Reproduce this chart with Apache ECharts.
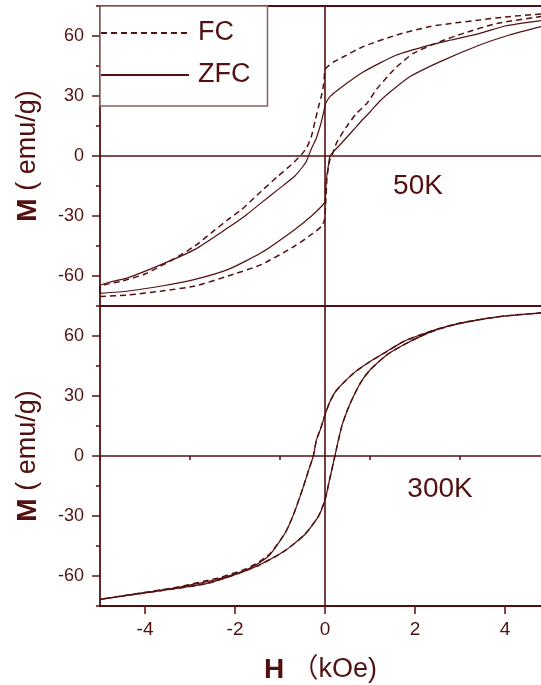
<!DOCTYPE html>
<html><head><meta charset="utf-8">
<script src="https://cdn.jsdelivr.net/npm/echarts@6/dist/echarts.min.js"></script>
<style>html,body{margin:0;padding:0;background:#fff}#c{width:541px;height:685px}</style>
</head><body><div id="c"></div>
<script>
// ---------- 50K, FC (dashed) ----------
const fc50DownH = [4.8, 4.0, 3.44, 2.8, 2.33, 1.59, 0.85, 0.4, 0.19, 0.05, 0, -0.03, -0.08, -0.14, -0.22, -0.3, -0.4, -0.52, -0.74, -1.04, -1.41, -1.85, -2.15, -2.52, -2.89, -3.4, -4.0, -4.5, -5];
const fc50DownM = [71, 69.5, 68, 66.3, 64.7, 60.5, 54.7, 49.5, 47, 44.5, 43, 36, 30, 25, 17.5, 10, 4.5, 0.8, -4.2, -10, -17.5, -26.7, -31.7, -38.3, -45, -52, -59, -62.5, -65.5];
const fc50UpH = [-5, -4.37, -3.63, -2.89, -2.15, -1.41, -0.67, -0.3, -0.07, -0.01, 0.02, 0.04, 0.08, 0.11, 0.15, 0.26, 0.48, 0.7, 0.93, 1.15, 1.4, 1.59, 1.96, 2.56, 3.07, 3.82, 4.8];
const fc50UpM = [-70.3, -69.5, -67.5, -65, -60, -54.2, -45, -39.2, -35, -31.7, -21.7, -12, -5, -1.7, 0, 6.7, 14.7, 21.3, 26.3, 33.5, 40, 44.5, 51.3, 57.2, 61.3, 66.3, 69.7];
// ---------- 50K, ZFC (solid) ----------
const zfc50DownH = [4.8, 4.0, 3.44, 2.8, 2.33, 1.59, 0.85, 0.33, 0.11, 0.03, 0, -0.05, -0.1, -0.2, -0.31, -0.41, -0.5, -0.67, -1.04, -1.41, -1.78, -2.15, -2.89, -3.63, -4.37, -5];
const zfc50DownM = [67.7, 65, 61.3, 58, 55.5, 50.5, 42, 33.8, 29.7, 27, 25, 20, 15.5, 8.5, 3.3, -2.5, -5.5, -10, -16.7, -23.3, -30, -35.8, -46.7, -54.2, -60.8, -65];
const zfc50UpH = [-5, -4.37, -3.63, -2.89, -2.15, -1.41, -0.67, -0.3, -0.07, 0, 0.02, 0.04, 0.08, 0.11, 0.2, 0.33, 0.63, 0.85, 1.0, 1.22, 1.5, 1.89, 2.56, 3.44, 4.1, 4.8];
const zfc50UpM = [-68.7, -67.5, -65, -61.7, -56.7, -48.3, -36.7, -30, -25, -23, -16, -10, -4, 0, 2.5, 5.5, 13, 18.5, 22, 27.5, 33, 39.7, 47.2, 55.5, 60.5, 64.7];
// ---------- 300K, FC (dashed) ----------
const fc300DownH = [4.8, 4.0, 3.5, 3.0, 2.5, 2.11, 1.74, 1.37, 1.0, 0.63, 0.26, 0.11, 0, -0.1, -0.19, -0.26, -0.37, -0.48, -0.69, -0.85, -1.0, -1.23, -1.54, -1.85, -2.3, -2.62, -3.0, -3.38, -4.15, -5];
const fc300DownM = [71.5, 70, 68.5, 66.5, 63.5, 60.5, 57.2, 52.2, 47.2, 41.3, 33, 27.2, 20.5, 13.5, 8, 0, -7.5, -15.3, -28.7, -37, -42.3, -49, -54, -57.2, -60.5, -62.3, -64.2, -66, -68.7, -71.7];
const fc300UpH = [-5, -4.15, -3.38, -2.62, -1.92, -1.46, -0.92, -0.46, -0.15, 0, 0.1, 0.22, 0.37, 0.5, 0.63, 0.8, 1.0, 1.37, 1.74, 2.11, 2.5, 3.0, 3.5, 4.0, 4.8];
const fc300UpM = [-71.7, -68.9, -66.5, -63.7, -58.7, -54.5, -47.8, -39.5, -30.3, -22, -12, 0, 14.7, 23, 29.7, 37, 43, 50.5, 55.5, 59.7, 63.3, 66.3, 68.4, 70, 71.5];
// ---------- 300K, ZFC (solid) ----------
const zfc300DownH = [4.8, 4.0, 3.5, 3.0, 2.5, 2.11, 1.74, 1.37, 1.0, 0.63, 0.26, 0.11, 0, -0.1, -0.19, -0.26, -0.37, -0.48, -0.69, -0.85, -1.0, -1.23, -1.54, -1.85, -2.3, -2.62, -3.0, -3.38, -4.15, -5];
const zfc300DownM = [71.5, 70, 68.5, 66.5, 63.5, 60.5, 57.2, 52.2, 47.2, 41.3, 33, 27.2, 20.5, 13.5, 8, 0, -7.5, -15.3, -28.7, -37, -42.5, -49.5, -54.5, -57.8, -61, -62.8, -64.5, -66.2, -68.7, -71.7];
const zfc300UpH = [-5, -4.15, -3.38, -2.62, -1.92, -1.46, -0.92, -0.46, -0.15, 0, 0.1, 0.22, 0.37, 0.5, 0.63, 0.8, 1.0, 1.37, 1.74, 2.11, 2.5, 3.0, 3.5, 4.0, 4.8];
const zfc300UpM = [-71.7, -68.9, -66.5, -63.7, -58.7, -54.5, -47.8, -39.5, -30.3, -22, -12, 0, 14.7, 23, 29.7, 37, 43, 50.5, 55.5, 59.7, 63.3, 66.3, 68.4, 70, 71.5];

// ---------- tick labels ----------
const xMajorTicks = [-4, -2, 0, 2, 4];
const xMinorTicks = [-5, -3, -1, 1, 3];
const yMajorTicks = [-60, -30, 0, 30, 60];
const yMinorTicks = [-75, -45, -15, 15, 45, 75];
const panelLabels = ['50K', '300K'];
const seriesNames = ['FC', 'ZFC'];

const C = '#531010';
const FONT = '"Liberation Sans", Arial, "Noto Sans CJK SC", sans-serif';

function loop(dh, dm, uh, um) {
  const out = [];
  dh.forEach((h, i) => out.push([h, dm[i]]));
  uh.forEach((h, i) => out.push([h, um[i]]));
  return out;
}

const chart = echarts.init(document.getElementById('c'), null, {renderer: 'canvas'});

function xAx(grid, pos, opts) {
  return Object.assign({
    type: 'value', gridIndex: grid, position: pos, min: -5, max: 4.8,
    axisLine: {show: true, onZero: false, lineStyle: {color: C, width: 1.8}},
    axisTick: {show: false}, axisLabel: {show: false}, splitLine: {show: false}
  }, opts || {});
}
function yAx(grid, major, opts) {
  return Object.assign({
    type: 'value', gridIndex: grid, position: 'left', min: -75, max: 75,
    axisLine: {show: major, onZero: false, lineStyle: {color: C, width: 1.8}},
    axisTick: {show: true, inside: false, length: major ? 8 : 4, customValues: major ? yMajorTicks : yMinorTicks, lineStyle: {color: C, width: 1.5}},
    axisLabel: major ? {show: true, customValues: yMajorTicks, color: C, fontSize: 18, fontFamily: FONT, margin: 16} : {show: false},
    splitLine: {show: false}
  }, opts || {});
}

const yName = {
  name: '{b|M} ( emu/g)', nameLocation: 'middle', nameGap: 58, nameRotate: 90,
  nameTextStyle: {color: C, fontSize: 27, fontFamily: FONT, rich: {b: {fontSize: 28, fontWeight: 'bold', color: C, fontFamily: FONT}}}
};

const zeroLines = {
  silent: true, symbol: 'none', animation: false,
  label: {show: false},
  lineStyle: {color: C, width: 1.6, type: 'solid'},
  emphasis: {disabled: true},
  data: [{xAxis: 0}, {yAxis: 0}]
};

const dashStyle = {color: C, width: 1.5, type: [6, 4]};
const solidStyle = {color: C, width: 1.2, type: 'solid'};

const option = {
  animation: false,
  backgroundColor: '#fff',
  grid: [
    {left: 100, right: 0, top: 6, height: 300},
    {left: 100, right: 0, top: 306, height: 300}
  ],
  legend: {
    data: seriesNames, orient: 'vertical', left: 100, top: 6,
    padding: [12, 17, 16, 0], itemGap: 12, itemWidth: 88, itemHeight: 14,
    borderColor: '#8e6060', borderWidth: 1.5, backgroundColor: '#fff',
    itemStyle: {opacity: 0},
    textStyle: {color: C, fontSize: 27, fontFamily: FONT, lineHeight: 30, padding: [0, 0, 0, 4]},
    selectedMode: false
  },
  xAxis: [
    xAx(0, 'bottom'),
    xAx(0, 'top'),
    xAx(1, 'bottom', {
      axisTick: {show: true, length: 8, customValues: xMajorTicks, lineStyle: {color: C, width: 1.5}},
      axisLabel: {show: true, customValues: xMajorTicks, color: C, fontSize: 19, fontFamily: FONT, margin: 14},
      name: '{b|H} （kOe)', nameLocation: 'middle', nameGap: 50,
      nameTextStyle: {color: C, fontSize: 27, fontFamily: FONT, rich: {b: {fontSize: 28, fontWeight: 'bold', color: C, fontFamily: FONT}}}
    }),
    xAx(1, 'bottom', {
      axisLine: {show: false},
      axisTick: {show: true, length: 4, customValues: xMinorTicks, lineStyle: {color: C, width: 1.5}}
    })
  ],
  yAxis: [
    yAx(0, true, yName),
    yAx(0, false),
    yAx(1, true, yName),
    yAx(1, false)
  ],
  graphic: [
    {type: 'text', x: 418, y: 186, style: {text: panelLabels[0], fill: C, fontSize: 28, fontFamily: FONT, align: 'center', verticalAlign: 'middle'}},
    {type: 'text', x: 440, y: 489, style: {text: panelLabels[1], fill: C, fontSize: 28, fontFamily: FONT, align: 'center', verticalAlign: 'middle'}}
  ],
  series: [
    {name: seriesNames[0], type: 'line', xAxisIndex: 0, yAxisIndex: 0, symbol: 'none', smooth: 0.2,
     lineStyle: dashStyle, itemStyle: {color: C}, data: loop(fc50DownH, fc50DownM, fc50UpH, fc50UpM)},
    {name: seriesNames[1], type: 'line', xAxisIndex: 0, yAxisIndex: 0, symbol: 'none', smooth: 0.2,
     lineStyle: solidStyle, itemStyle: {color: C}, data: loop(zfc50DownH, zfc50DownM, zfc50UpH, zfc50UpM),
     markLine: zeroLines},
    {name: seriesNames[0], type: 'line', xAxisIndex: 2, yAxisIndex: 2, symbol: 'none', smooth: 0.2,
     lineStyle: dashStyle, itemStyle: {color: C}, data: loop(fc300DownH, fc300DownM, fc300UpH, fc300UpM)},
    {name: seriesNames[1], type: 'line', xAxisIndex: 2, yAxisIndex: 2, symbol: 'none', smooth: 0.2,
     lineStyle: solidStyle, itemStyle: {color: C}, data: loop(zfc300DownH, zfc300DownM, zfc300UpH, zfc300UpM),
     markLine: zeroLines}
  ]
};
chart.setOption(option);
</script></body></html>
